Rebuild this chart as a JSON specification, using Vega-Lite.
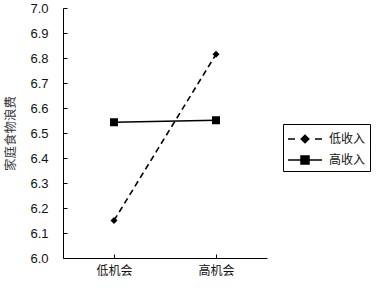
{
  "$schema": "https://vega.github.io/schema/vega-lite/v6.json",
  "autosize": "none",
  "width": 204,
  "height": 250,
  "padding": {"left": 63, "top": 8, "right": 110, "bottom": 30},
  "background": "white",
  "config": {
    "view": {"stroke": null},
    "axis": {"domainColor": "black", "tickColor": "black", "labelColor": "#111", "grid": false, "domainWidth": 1, "tickWidth": 1}
  },
  "data": {
    "values": [
      {"opp": "低机会", "income": "低收入", "v": 6.15},
      {"opp": "高机会", "income": "低收入", "v": 6.815},
      {"opp": "低机会", "income": "高收入", "v": 6.543},
      {"opp": "高机会", "income": "高收入", "v": 6.551}
    ]
  },
  "encoding": {
    "x": {
      "field": "opp", "type": "nominal",
      "scale": {"type": "point", "domain": ["低机会", "高机会"], "padding": 0.5},
      "axis": {"title": null, "labelAngle": 0, "tickSize": -4, "labelPadding": 11, "labelFont": "Noto Sans CJK SC", "labelFontSize": 12, "labelColor": "#111"}
    },
    "y": {
      "field": "v", "type": "quantitative",
      "scale": {"domain": [6, 7], "nice": false, "zero": false},
      "axis": {
        "values": [6.0, 6.1, 6.2, 6.3, 6.4, 6.5, 6.6, 6.7, 6.8, 6.9, 7.0],
        "format": ".1f", "tickSize": -4, "labelPadding": 19,
        "labelFont": "Liberation Sans", "labelFontSize": 13,
        "title": "家庭食物浪费", "titleFont": "Noto Sans CJK SC", "titleFontSize": 12.5, "titleFontWeight": "normal", "titleColor": "#333333",
        "titleX": -53, "titleY": 125, "titleAngle": -90, "titleAlign": "center", "titleBaseline": "middle"
      }
    }
  },
  "layer": [
    {
      "transform": [{"filter": "datum.income === '低收入'"}],
      "mark": {"type": "line", "color": "black", "strokeWidth": 1.6, "strokeDash": [6, 4]}
    },
    {
      "transform": [{"filter": "datum.income === '高收入'"}],
      "mark": {"type": "line", "color": "black", "strokeWidth": 1.6}
    },
    {
      "transform": [{"filter": "datum.income === '低收入'"}],
      "mark": {"type": "point", "shape": "diamond", "filled": true, "color": "black", "opacity": 1, "size": 49}
    },
    {
      "transform": [{"filter": "datum.income === '高收入'"}],
      "mark": {"type": "point", "shape": "square", "filled": true, "color": "black", "opacity": 1, "size": 64}
    },
    {
      "mark": {"type": "point", "filled": false, "color": "black", "opacity": 0, "size": 4, "strokeWidth": 1.5},
      "encoding": {
        "shape": {
          "field": "income", "type": "nominal",
          "scale": {
            "domain": ["低收入", "高收入"],
            "range": [
              "M-1.7,0H-1.0M1.0,0H1.7M-0.38,0L0,-0.38L0.38,0L0,0.38ZM-0.08,-0.3H0.08M-0.18,-0.2H0.18M-0.28,-0.1H0.28M-0.38,0H0.38M-0.28,0.1H0.28M-0.18,0.2H0.18M-0.08,0.3H0.08",
              "M-1.7,0H1.7M-0.4,-0.4H0.4V0.4H-0.4ZM-0.4,-0.3H0.4M-0.4,-0.2H0.4M-0.4,-0.1H0.4M-0.4,0.1H0.4M-0.4,0.2H0.4M-0.4,0.3H0.4"
            ]
          },
          "legend": {
            "title": null, "orient": "none", "legendX": 220, "legendY": 116,
            "strokeColor": "black", "padding": 4,
            "symbolSize": 400, "symbolOpacity": 1, "symbolStrokeColor": "black", "symbolStrokeWidth": 1.5,
            "symbolOffset": 7, "labelOffset": 13, "rowPadding": 3,
            "labelFont": "Noto Sans CJK SC", "labelFontSize": 12, "labelColor": "#111"
          }
        }
      }
    }
  ]
}
